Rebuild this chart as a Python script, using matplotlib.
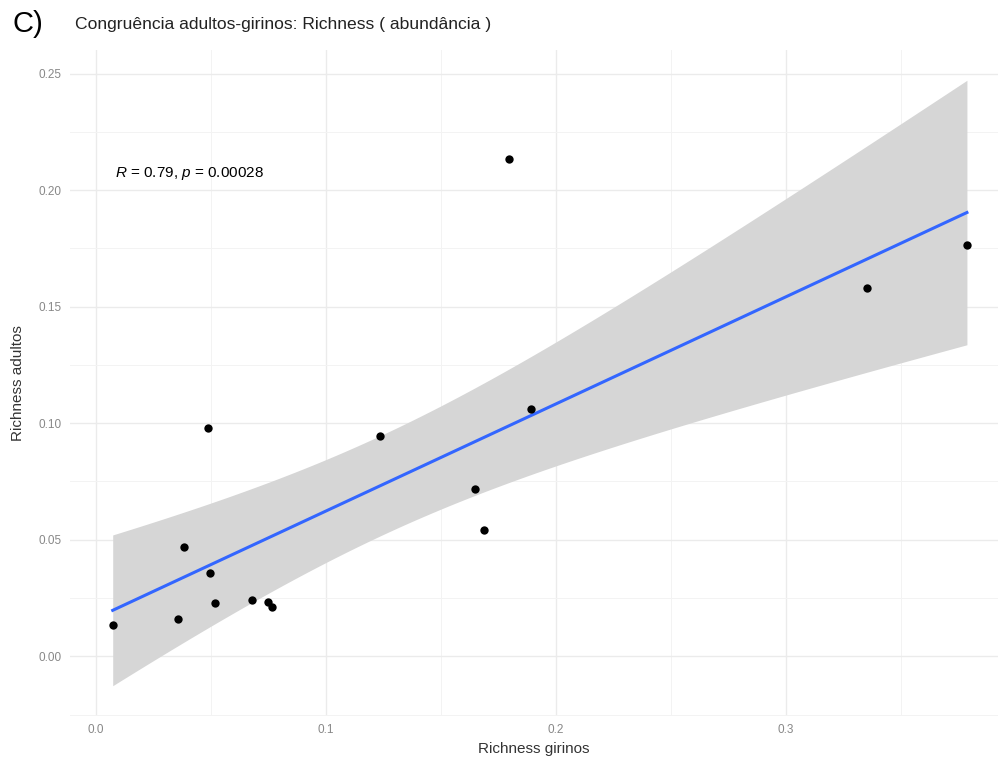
import matplotlib
matplotlib.use('Agg')
import matplotlib.pyplot as plt
import numpy as np
from matplotlib.ticker import MultipleLocator

plt.rcParams['font.family'] = ['Liberation Sans', 'DejaVu Sans']
plt.rcParams['mathtext.fontset'] = 'custom'
plt.rcParams['mathtext.it'] = 'Liberation Sans:italic'
plt.rcParams['mathtext.rm'] = 'Liberation Sans'

# data
richness_girinos = [0.0073, 0.0356, 0.0382, 0.0487, 0.0494, 0.0516, 0.0679, 0.0748,
                    0.0766, 0.1235, 0.1647, 0.1688, 0.1794, 0.1891, 0.3354, 0.3787]
richness_adultos = [0.0136, 0.0158, 0.0467, 0.0981, 0.0357, 0.0229, 0.0242, 0.0233,
                    0.0212, 0.0947, 0.0719, 0.0540, 0.2135, 0.1060, 0.1580, 0.1766]
x_ticks = [0.0, 0.1, 0.2, 0.3]
y_ticks = [0.00, 0.05, 0.10, 0.15, 0.20, 0.25]
stat_label = r'$\it{R}$ = 0.79, $\it{p}$ = 0.00028'

x = np.array(richness_girinos)
y = np.array(richness_adultos)

# linear fit + 95% confidence band (like geom_smooth(method='lm'))
n = len(x)
slope, intercept = np.polyfit(x, y, 1)
xs = np.linspace(x.min(), x.max(), 100)
ys = intercept + slope * xs
resid = y - (intercept + slope * x)
s = np.sqrt(np.sum(resid ** 2) / (n - 2))
t_crit = 2.1448  # t(0.975, df=14)
se = s * np.sqrt(1 / n + (xs - x.mean()) ** 2 / np.sum((x - x.mean()) ** 2))
lo, hi = ys - t_crit * se, ys + t_crit * se

fig = plt.figure(figsize=(9.98, 7.65), dpi=100)
ax = fig.add_axes([70 / 998, 1 - 716 / 765, (998 - 70) / 998, (716 - 50) / 765])

ax.fill_between(xs, lo, hi, color='#d6d6d6', linewidth=0, zorder=2)
ax.plot(xs, ys, color='#3366FF', linewidth=2.2, zorder=3)
ax.scatter(x, y, s=36, color='black', zorder=4, linewidths=0)

ax.text(0.0082, 0.207, stat_label, fontsize=11, va='center', ha='left', color='black')

# scales with ggplot-like expansion
xr = x.max() - x.min()
ax.set_xlim(x.min() - 0.05 * xr, x.min() - 0.05 * xr + (998 - 70) / 2300)
ymin, ymax = min(lo.min(), y.min()), max(hi.max(), y.max())
yr = ymax - ymin
ax.set_ylim(ymin - 0.05 * yr, ymax + 0.05 * yr)

ax.set_xticks(x_ticks)
ax.set_xticklabels(['0.0', '0.1', '0.2', '0.3'])
ax.set_yticks(y_ticks)
ax.set_yticklabels(['%.2f' % v for v in y_ticks])
ax.xaxis.set_minor_locator(MultipleLocator(0.05))
ax.yaxis.set_minor_locator(MultipleLocator(0.025))

ax.grid(True, which='major', color='#ebebeb', linewidth=1.0, zorder=0)
ax.grid(True, which='minor', color='#f3f3f3', linewidth=0.7, zorder=0)
ax.set_axisbelow(True)
for sp in ax.spines.values():
    sp.set_visible(False)
ax.tick_params(which='both', length=0, labelsize=8.5, labelcolor='#888888', pad=6)

ax.set_xlabel('Richness girinos', fontsize=11, color='#333333', labelpad=4)
ax.set_ylabel('Richness adultos', fontsize=11, color='#333333', labelpad=10)

fig.text(12 / 998, 1 - 24 / 765, 'C)', fontsize=21, va='center', ha='left')
fig.text(75 / 998, 1 - 24 / 765, 'Congruência adultos-girinos: Richness ( abundância )',
         fontsize=12.6, va='center', ha='left', color='#222222')

fig.savefig('out.png', dpi=100)
